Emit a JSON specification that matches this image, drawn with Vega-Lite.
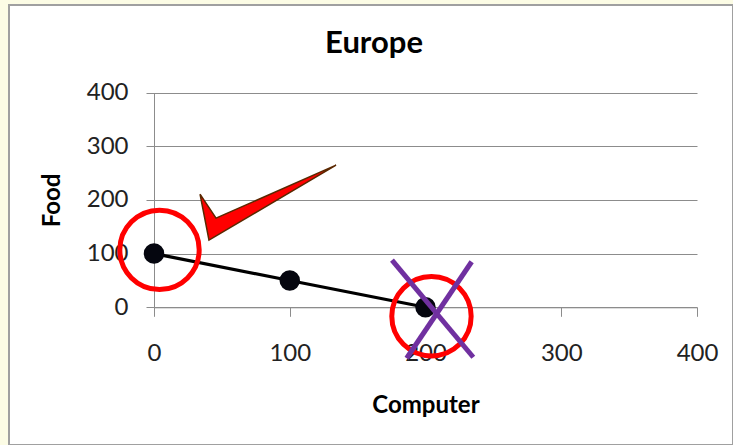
{
  "$schema": "https://vega.github.io/schema/vega-lite/v6.json",
  "width": 724,
  "height": 440,
  "autosize": "none",
  "padding": {"left": 9, "top": 5, "right": 0, "bottom": 0},
  "background": "#fcfce5",
  "title": {
    "text": "Europe",
    "font": "Lato",
    "fontSize": 31,
    "fontWeight": "bold",
    "color": "#000000",
    "anchor": "middle",
    "frame": "group",
    "baseline": "alphabetic",
    "offset": -79,
    "dx": 3
  },
  "datasets": {
    "frontier": [
      {"Computer": 0, "Food": 100},
      {"Computer": 100, "Food": 50},
      {"Computer": 200, "Food": 0}
    ],
    "rings": [
      {"Computer": 4.05, "Food": 107},
      {"Computer": 204.4, "Food": -16.7}
    ],
    "cross": [
      {"Computer": 175.3, "Food": 88.0, "Computer2": 235.2, "Food2": -93.0},
      {"Computer": 234.0, "Food": 84.8, "Computer2": 186.1, "Food2": -94.9}
    ],
    "tick": [
      {"k": 1, "Computer": 33.9, "Food": 210.8},
      {"k": 2, "Computer": 45.7, "Food": 166.1},
      {"k": 3, "Computer": 134.1, "Food": 264.7},
      {"k": 4, "Computer": 40.5, "Food": 125.2},
      {"k": 5, "Computer": 33.9, "Food": 210.8}
    ]
  },
  "layer": [
    {
      "data": {"name": "frontier"},
      "mark": {"type": "line", "color": "#000000", "strokeWidth": 3.2},
      "encoding": {
        "x": {
          "field": "Computer",
          "type": "quantitative",
          "scale": {"domain": [0, 400], "range": [145, 688], "nice": false, "zero": false},
          "axis": {
            "title": "Computer",
            "values": [0, 100, 200, 300, 400],
            "grid": false,
            "tickSize": 9,
            "labelPadding": 25,
            "labelFlush": false,
            "labelOverlap": false,
            "offset": -137.7,
            "titlePadding": 28
          }
        },
        "y": {
          "field": "Food",
          "type": "quantitative",
          "scale": {"domain": [0, 400], "range": [302.3, 87.5], "nice": false, "zero": false},
          "axis": {
            "title": "Food",
            "values": [0, 100, 200, 300, 400],
            "grid": true,
            "tickSize": 8,
            "labelPadding": 18,
            "labelFlush": false,
            "labelOverlap": false,
            "offset": -145,
            "titlePadding": 22
          }
        }
      }
    },
    {
      "data": {"name": "frontier"},
      "mark": {"type": "point", "shape": "circle", "filled": true, "color": "#05060f", "size": 420, "opacity": 1},
      "encoding": {
        "x": {"field": "Computer", "type": "quantitative"},
        "y": {"field": "Food", "type": "quantitative"}
      }
    },
    {
      "data": {"name": "rings"},
      "mark": {"type": "point", "shape": "circle", "filled": false, "stroke": "#ff0000", "strokeWidth": 5, "size": 6300, "opacity": 1},
      "encoding": {
        "x": {"field": "Computer", "type": "quantitative"},
        "y": {"field": "Food", "type": "quantitative"}
      }
    },
    {
      "data": {"name": "cross"},
      "mark": {"type": "rule", "color": "#7030a0", "strokeWidth": 5, "strokeCap": "butt"},
      "encoding": {
        "x": {"field": "Computer", "type": "quantitative"},
        "y": {"field": "Food", "type": "quantitative"},
        "x2": {"field": "Computer2"},
        "y2": {"field": "Food2"}
      }
    },
    {
      "data": {"name": "tick"},
      "mark": {"type": "line", "fill": "#ff0000", "stroke": "#5a2800", "strokeWidth": 1.5, "strokeJoin": "miter"},
      "encoding": {
        "x": {"field": "Computer", "type": "quantitative"},
        "y": {"field": "Food", "type": "quantitative"},
        "order": {"field": "k", "type": "quantitative"}
      }
    }
  ],
  "config": {
    "view": {"fill": "#ffffff", "stroke": "#a0a0a0", "strokeWidth": 2},
    "axis": {
      "labelFont": "Lato",
      "labelFontSize": 24,
      "labelColor": "#222222",
      "titleFont": "Lato",
      "titleFontSize": 24,
      "titleFontWeight": "bold",
      "titleColor": "#000000",
      "domainColor": "#8c8c8c",
      "domainWidth": 1,
      "tickColor": "#8c8c8c",
      "tickWidth": 1,
      "gridColor": "#8c8c8c",
      "gridWidth": 1,
      "gridOpacity": 1
    }
  }
}
